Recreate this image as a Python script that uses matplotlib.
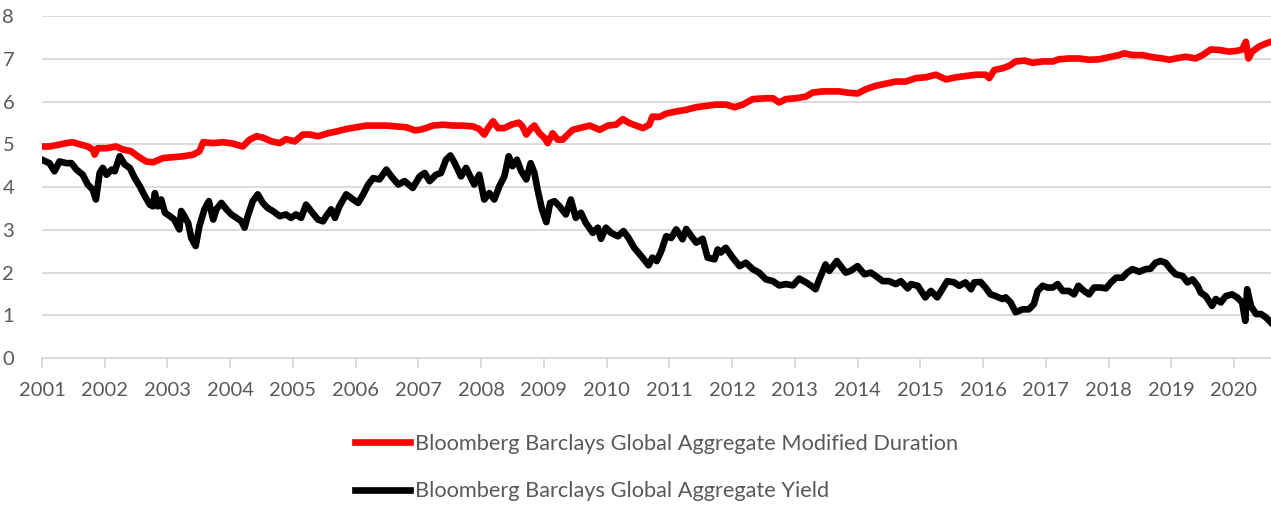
import matplotlib.pyplot as plt

# Bloomberg Barclays Global Aggregate - modified duration
dur_t = [2001.00, 2001.12, 2001.26, 2001.39, 2001.49, 2001.63, 2001.73, 2001.81, 2001.84, 2001.89,
         2002.03, 2002.18, 2002.29, 2002.42, 2002.53, 2002.66, 2002.77, 2002.93, 2003.09, 2003.25,
         2003.41, 2003.51, 2003.57, 2003.73, 2003.89, 2004.04, 2004.20, 2004.31, 2004.42, 2004.52,
         2004.66, 2004.79, 2004.89, 2005.03, 2005.16, 2005.27, 2005.40, 2005.56, 2005.69, 2005.85,
         2006.01, 2006.17, 2006.33, 2006.49, 2006.65, 2006.81, 2006.94,
         2007.02, 2007.12, 2007.23, 2007.39, 2007.55, 2007.71, 2007.87, 2007.97, 2008.05, 2008.11,
         2008.19, 2008.27, 2008.37, 2008.48, 2008.60, 2008.66, 2008.72, 2008.80, 2008.85, 2008.93,
         2009.01, 2009.06, 2009.14, 2009.22, 2009.30, 2009.38, 2009.46, 2009.57, 2009.73, 2009.89,
         2010.02, 2010.15, 2010.26, 2010.36, 2010.47, 2010.58, 2010.68, 2010.73, 2010.84, 2010.95,
         2011.11, 2011.27, 2011.43, 2011.58, 2011.74, 2011.90, 2012.04, 2012.17, 2012.33, 2012.54,
         2012.65, 2012.75, 2012.86, 2013.02, 2013.18, 2013.28, 2013.44, 2013.60,
         2013.71, 2013.84, 2014.00, 2014.13, 2014.29, 2014.45, 2014.61, 2014.77, 2014.93, 2015.09,
         2015.25, 2015.41, 2015.57, 2015.73, 2015.89, 2016.04, 2016.10, 2016.18, 2016.31, 2016.42,
         2016.52, 2016.66, 2016.79, 2016.95, 2017.11, 2017.21, 2017.37, 2017.53, 2017.69, 2017.85,
         2018.01, 2018.17, 2018.25, 2018.38, 2018.54, 2018.70, 2018.86, 2018.97, 2019.07, 2019.23,
         2019.39, 2019.50, 2019.63, 2019.76, 2019.92, 2020.05, 2020.13, 2020.19, 2020.23, 2020.29,
         2020.40, 2020.51, 2020.59]
dur_v = [4.95, 4.95, 4.99, 5.03, 5.05, 4.99, 4.95, 4.88, 4.76, 4.91,
         4.91, 4.95, 4.88, 4.84, 4.72, 4.60, 4.58, 4.68, 4.70, 4.72,
         4.76, 4.84, 5.05, 5.03, 5.05, 5.02, 4.95, 5.11, 5.19, 5.16,
         5.07, 5.03, 5.12, 5.07, 5.23, 5.23, 5.19, 5.26, 5.30, 5.36,
         5.40, 5.44, 5.44, 5.44, 5.42, 5.40, 5.33,
         5.34, 5.38, 5.44, 5.46, 5.44, 5.44, 5.42, 5.36, 5.23, 5.38,
         5.54, 5.38, 5.38, 5.46, 5.51, 5.42, 5.23, 5.38, 5.44, 5.26,
         5.15, 5.03, 5.26, 5.11, 5.11, 5.23, 5.34, 5.38, 5.44, 5.34,
         5.44, 5.46, 5.59, 5.50, 5.44, 5.38, 5.46, 5.65, 5.64, 5.72,
         5.77, 5.81, 5.87, 5.90, 5.93, 5.93, 5.87, 5.93, 6.06, 6.08,
         6.08, 5.98, 6.06, 6.08, 6.12, 6.21, 6.24, 6.24,
         6.24, 6.21, 6.19, 6.29, 6.37, 6.42, 6.47, 6.47, 6.55, 6.57,
         6.63, 6.52, 6.57, 6.60, 6.63, 6.63, 6.55, 6.74, 6.78, 6.84,
         6.94, 6.96, 6.91, 6.94, 6.94, 6.99, 7.01, 7.01, 6.98, 6.99,
         7.04, 7.09, 7.13, 7.09, 7.09, 7.04, 7.01, 6.98, 7.01, 7.05,
         7.01, 7.09, 7.22, 7.21, 7.17, 7.19, 7.22, 7.40, 7.01, 7.17,
         7.29, 7.36, 7.40]

# Bloomberg Barclays Global Aggregate - yield
yld_t = [2001.00, 2001.12, 2001.20, 2001.28, 2001.39, 2001.47, 2001.55, 2001.65, 2001.73, 2001.81,
         2001.86, 2001.92, 2001.97, 2002.03, 2002.11, 2002.16, 2002.24, 2002.32, 2002.40, 2002.48,
         2002.56, 2002.64, 2002.72, 2002.77, 2002.80, 2002.85, 2002.90, 2002.96, 2003.04, 2003.11,
         2003.19, 2003.22, 2003.27, 2003.33, 2003.38, 2003.45, 2003.51, 2003.59, 2003.66, 2003.73,
         2003.78, 2003.86, 2003.94, 2004.02, 2004.10, 2004.18, 2004.23, 2004.28, 2004.36, 2004.44,
         2004.52, 2004.60, 2004.68, 2004.79, 2004.89, 2004.97, 2005.05, 2005.13, 2005.21, 2005.29,
         2005.40, 2005.48, 2005.53, 2005.61, 2005.67, 2005.74, 2005.85, 2005.96, 2006.04, 2006.12,
         2006.20, 2006.28, 2006.38, 2006.49, 2006.57, 2006.68, 2006.78, 2006.91, 2006.99,
         2007.02, 2007.10, 2007.18, 2007.28, 2007.36, 2007.44, 2007.51, 2007.58, 2007.68, 2007.76,
         2007.84, 2007.89, 2007.97, 2008.05, 2008.13, 2008.21, 2008.29, 2008.37, 2008.44, 2008.50,
         2008.57, 2008.64, 2008.72, 2008.79, 2008.85, 2008.90, 2008.97, 2009.04, 2009.10, 2009.17,
         2009.25, 2009.35, 2009.43, 2009.51, 2009.59, 2009.67, 2009.78, 2009.86, 2009.91, 2009.99,
         2010.07, 2010.18, 2010.27, 2010.35, 2010.44, 2010.55, 2010.67, 2010.73, 2010.80, 2010.87,
         2010.95, 2011.03, 2011.11, 2011.21, 2011.27, 2011.35, 2011.43, 2011.53, 2011.61, 2011.72,
         2011.77, 2011.82, 2011.90, 2012.01, 2012.12, 2012.22, 2012.33, 2012.43, 2012.54, 2012.65,
         2012.75, 2012.86, 2012.97, 2013.07, 2013.18, 2013.26, 2013.33, 2013.39, 2013.49, 2013.55,
         2013.67,
         2013.81, 2013.89, 2014.00, 2014.11, 2014.21, 2014.29, 2014.40, 2014.50, 2014.61, 2014.69,
         2014.80, 2014.85, 2014.96, 2015.08, 2015.17, 2015.27, 2015.35, 2015.43, 2015.54, 2015.62,
         2015.72, 2015.81, 2015.86, 2015.96, 2016.04, 2016.12, 2016.20, 2016.31, 2016.36, 2016.44,
         2016.52, 2016.63, 2016.73, 2016.81, 2016.87, 2016.95, 2017.03, 2017.11, 2017.19, 2017.27,
         2017.37, 2017.45, 2017.52, 2017.61, 2017.69, 2017.77, 2017.88, 2017.96, 2018.04, 2018.12,
         2018.22, 2018.30, 2018.38, 2018.49, 2018.59, 2018.67, 2018.75, 2018.83, 2018.91, 2018.99,
         2019.07, 2019.18, 2019.26, 2019.34, 2019.42, 2019.47, 2019.55, 2019.65, 2019.71, 2019.79,
         2019.87, 2019.97, 2020.05, 2020.13, 2020.18, 2020.21, 2020.27, 2020.35, 2020.43, 2020.51,
         2020.59]
yld_v = [4.64, 4.56, 4.37, 4.60, 4.56, 4.56, 4.41, 4.29, 4.06, 3.94,
         3.71, 4.33, 4.45, 4.29, 4.41, 4.37, 4.72, 4.53, 4.45, 4.21,
         4.02, 3.79, 3.59, 3.55, 3.86, 3.55, 3.71, 3.40, 3.32, 3.24,
         3.01, 3.44, 3.32, 3.16, 2.81, 2.62, 3.09, 3.48, 3.67, 3.24,
         3.48, 3.63, 3.48, 3.36, 3.28, 3.20, 3.05, 3.32, 3.67, 3.83,
         3.63, 3.51, 3.44, 3.32, 3.36, 3.28, 3.36, 3.28, 3.59, 3.44,
         3.24, 3.20, 3.32, 3.48, 3.28, 3.55, 3.83, 3.71, 3.63, 3.83,
         4.06, 4.21, 4.18, 4.41, 4.25, 4.06, 4.14, 3.98, 4.18,
         4.25, 4.33, 4.14, 4.29, 4.33, 4.64, 4.74, 4.56, 4.25, 4.45,
         4.21, 4.06, 4.29, 3.71, 3.86, 3.71, 4.02, 4.25, 4.72, 4.49,
         4.64, 4.37, 4.18, 4.56, 4.33, 3.94, 3.48, 3.18, 3.63, 3.67,
         3.55, 3.36, 3.71, 3.28, 3.40, 3.16, 2.93, 3.05, 2.79, 3.05,
         2.93, 2.85, 2.97, 2.81, 2.58, 2.39, 2.17, 2.35, 2.27, 2.50,
         2.85, 2.81, 3.01, 2.78, 3.02, 2.85, 2.70, 2.79, 2.35, 2.31,
         2.54, 2.47, 2.58, 2.35, 2.15, 2.23, 2.08, 2.00, 1.84, 1.80,
         1.70, 1.73, 1.70, 1.86, 1.77, 1.69, 1.61, 1.84, 2.19, 2.04,
         2.27,
         2.00, 2.04, 2.15, 1.96, 2.00, 1.92, 1.80, 1.80, 1.73, 1.80,
         1.63, 1.73, 1.69, 1.42, 1.57, 1.42, 1.61, 1.80, 1.77, 1.69,
         1.77, 1.61, 1.77, 1.78, 1.65, 1.49, 1.45, 1.38, 1.42, 1.30,
         1.07, 1.14, 1.14, 1.26, 1.57, 1.69, 1.65, 1.65, 1.73, 1.57,
         1.57, 1.49, 1.69, 1.57, 1.49, 1.65, 1.65, 1.63, 1.77, 1.88,
         1.88, 2.00, 2.08, 2.02, 2.08, 2.09, 2.23, 2.27, 2.23, 2.08,
         1.96, 1.92, 1.77, 1.84, 1.69, 1.53, 1.45, 1.22, 1.38, 1.30,
         1.45, 1.49, 1.42, 1.30, 0.87, 1.61, 1.22, 1.03, 1.03, 0.95,
         0.83]

years = list(range(2001, 2021))
dur_label = 'Bloomberg Barclays Global Aggregate Modified Duration'
yld_label = 'Bloomberg Barclays Global Aggregate Yield'

plt.rcParams['font.family'] = ['Lato', 'DejaVu Sans']
txt = '#595959'
grid = '#d9d9d9'

fig = plt.figure(figsize=(12.71, 5.05), dpi=100)
ax = fig.add_axes([0.033, 0.291, 0.967, 0.677])

ax.plot(dur_t, dur_v, color='#ff0000', lw=4.8, label=dur_label, solid_joinstyle='round')
ax.plot(yld_t, yld_v, color='#000000', lw=4.8, label=yld_label, solid_joinstyle='round')

ax.set_xlim(2001, 2020.59)
ax.set_ylim(0, 8)
ax.set_yticks(range(0, 9))
ax.set_xticks(years)
ax.set_xticklabels([str(y) for y in years])

ax.grid(axis='y', color=grid, lw=1.3)
ax.set_axisbelow(True)
for s in ['top', 'right', 'left']:
    ax.spines[s].set_visible(False)
ax.spines['bottom'].set_color(grid)
ax.spines['bottom'].set_linewidth(1.3)

ax.tick_params(axis='y', length=0, pad=20, labelsize=14.5, labelcolor=txt)
ax.tick_params(axis='x', length=7, width=1.3, color=grid, pad=10, labelsize=14.5, labelcolor=txt)

leg = ax.legend(loc='upper center', bbox_to_anchor=(0.5, -0.165), ncol=1, frameon=False,
                fontsize=15.7, handlelength=2.55, handletextpad=0.22, labelspacing=1.25)
for t in leg.get_texts():
    t.set_color(txt)

fig.savefig('out.png', dpi=100)
